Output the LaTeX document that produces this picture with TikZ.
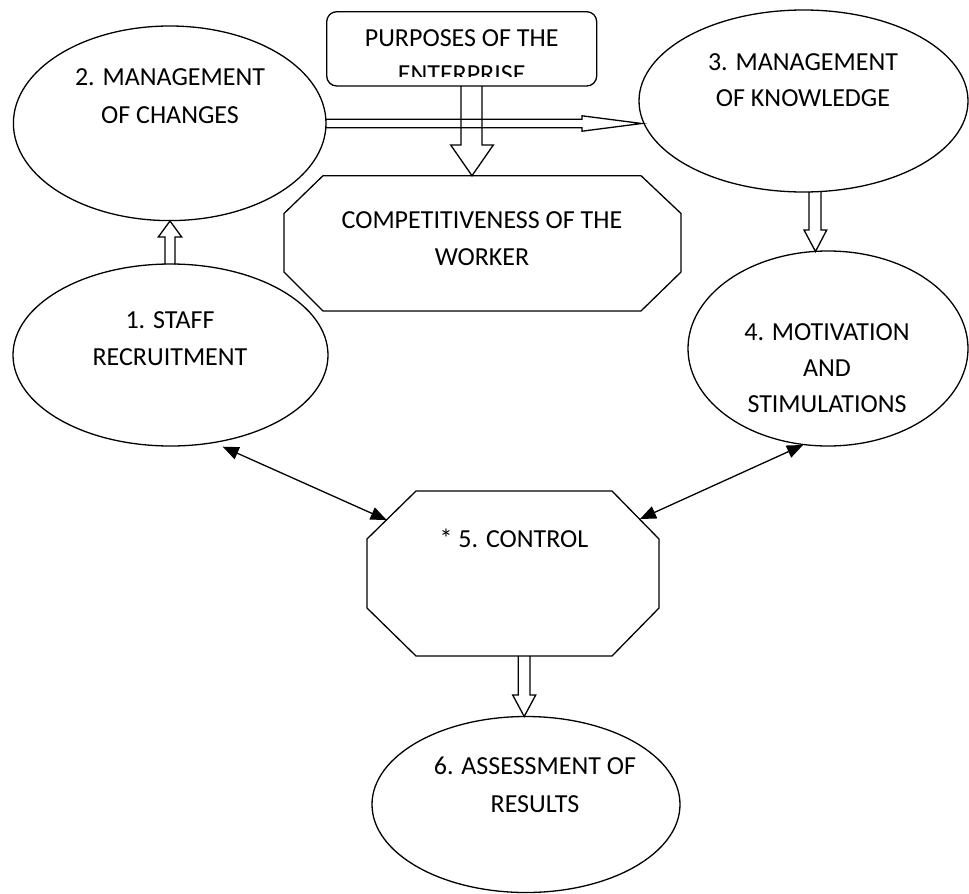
\documentclass[tikz,border=0pt]{standalone}
\usepackage{fontspec}
\setmainfont{Carlito}
\usetikzlibrary{shapes.geometric,arrows.meta}
\begin{document}
\begin{tikzpicture}[x=1pt,y=-1pt,
  outl/.style={draw, line width=1.3pt, line join=miter},
  oval/.style={ellipse, draw, line width=1.3pt, inner sep=0pt},
  lbl/.style={anchor=base, inner sep=0pt, font=\fontsize{26}{37}\selectfont},
  hollow/.style={draw, line width=1.3pt, line join=miter},
  dbl/.style={line width=1.3pt, {Triangle[length=16pt,width=13pt]}-{Triangle[length=16pt,width=13pt]}}]
\useasboundingbox (0,0) rectangle (969,894);

% ellipses
\node[oval, minimum width=312.6pt, minimum height=194.6pt] (e2) at (169.7,123.3) {};
\node[oval, minimum width=329pt, minimum height=182pt] (e3) at (803.5,101) {};
\node[oval, minimum width=315pt, minimum height=182pt] (e1) at (170.5,355) {};
\node[oval, minimum width=280pt, minimum height=195pt] (e4) at (828,348.5) {};
\node[oval, minimum width=308pt, minimum height=176pt] (e6) at (526,804.5) {};

% purposes box
\node[draw, line width=1.3pt, rounded corners=10pt, minimum width=270pt, minimum height=74.3pt, inner sep=0pt] (pb) at (461.7,48.85) {};
\begin{scope}
\clip (326.7,11.7) rectangle (596.7,76);
\node[lbl] (tp1) at (461.7,46) {PURPOSES OF THE};
\node[lbl] (tp2) at (461.7,82.7) {ENTERPRISE};
\end{scope}

% octagons
\draw[outl] (323,175.7) -- (641,175.7) -- (681,213.5) -- (681,272) -- (641,311) -- (323,311) -- (284,272) -- (284,213.5) -- cycle;
\draw[outl] (416,491) -- (612,491) -- (659,539) -- (659,608) -- (612,656) -- (416,656) -- (367,608) -- (367,539) -- cycle;

% texts
\node[lbl] (t2a) at (170,85) {2. MANAGEMENT};
\node[lbl] (t2b) at (170,123) {OF CHANGES};
\node[lbl] (t3a) at (803,70) {3. MANAGEMENT};
\node[lbl] (t3b) at (803,106) {OF KNOWLEDGE};
\node[lbl] (t1a) at (170,328.5) {1. STAFF};
\node[lbl] (t1b) at (170,365.5) {RECRUITMENT};
\node[lbl] (t4a) at (827,340.5) {4. MOTIVATION};
\node[lbl] (t4b) at (827,376.5) {AND};
\node[lbl] (t4c) at (827,412.5) {STIMULATIONS};
\node[lbl] (tca) at (482,228.3) {COMPETITIVENESS OF THE};
\node[lbl] (tcb) at (482,265) {WORKER};
\node[lbl] (t5) at (514,547.3) {* 5. CONTROL};
\node[lbl] (t6a) at (535,774) {6. ASSESSMENT OF};
\node[lbl] (t6b) at (535,812) {RESULTS};

% hollow arrows
\coordinate (pa) at (471.5,86);   \coordinate (pt) at (472,175.7);
\draw[hollow] (pa) ++(-10.5,0) -- ++(0,59) -- ++(-10.3,0) -- (pt) -- ++(21.3,-30.7) -- ++(-11.3,0) -- ++(0,-59);
\coordinate (ba) at (326,123.5);  \coordinate (bt) at (641.7,123.5);
\draw[hollow] (ba) ++(0,-4.2) -- ++(256,0) -- ++(0,-3.5) -- (bt) -- ++(-59.7,7.7) -- ++(0,-3.5) -- ++(-256,0);
\coordinate (ca) at (170,264.5);  \coordinate (ct) at (170,221);
\draw[hollow] (ca) ++(-5,0) -- ++(0,-27.5) -- ++(-6.7,0) -- (ct) -- ++(11.7,16) -- ++(-6.7,0) -- ++(0,27.5);
\coordinate (da) at (815,191.5);  \coordinate (dt) at (815.5,251.5);
\draw[hollow] (da) ++(-6,0) -- ++(0,38.5) -- ++(-5,0) -- (dt) -- ++(11.2,-21.5) -- ++(-5.7,0) -- ++(0,-38.5);
\coordinate (ea) at (524.2,656);  \coordinate (et) at (524.2,716.5);
\draw[hollow] (ea) ++(-5.9,0) -- ++(0,39) -- ++(-5.6,0) -- (et) -- ++(11.5,-21.5) -- ++(-5.7,0) -- ++(0,-39);

% double arrows
\coordinate (l1) at (222.7,446.7); \coordinate (l2) at (386.7,520);
\coordinate (r1) at (803,445);     \coordinate (r2) at (640,519);
\draw[dbl] (l1) -- (l2);
\draw[dbl] (r1) -- (r2);
\end{tikzpicture}
\end{document}
